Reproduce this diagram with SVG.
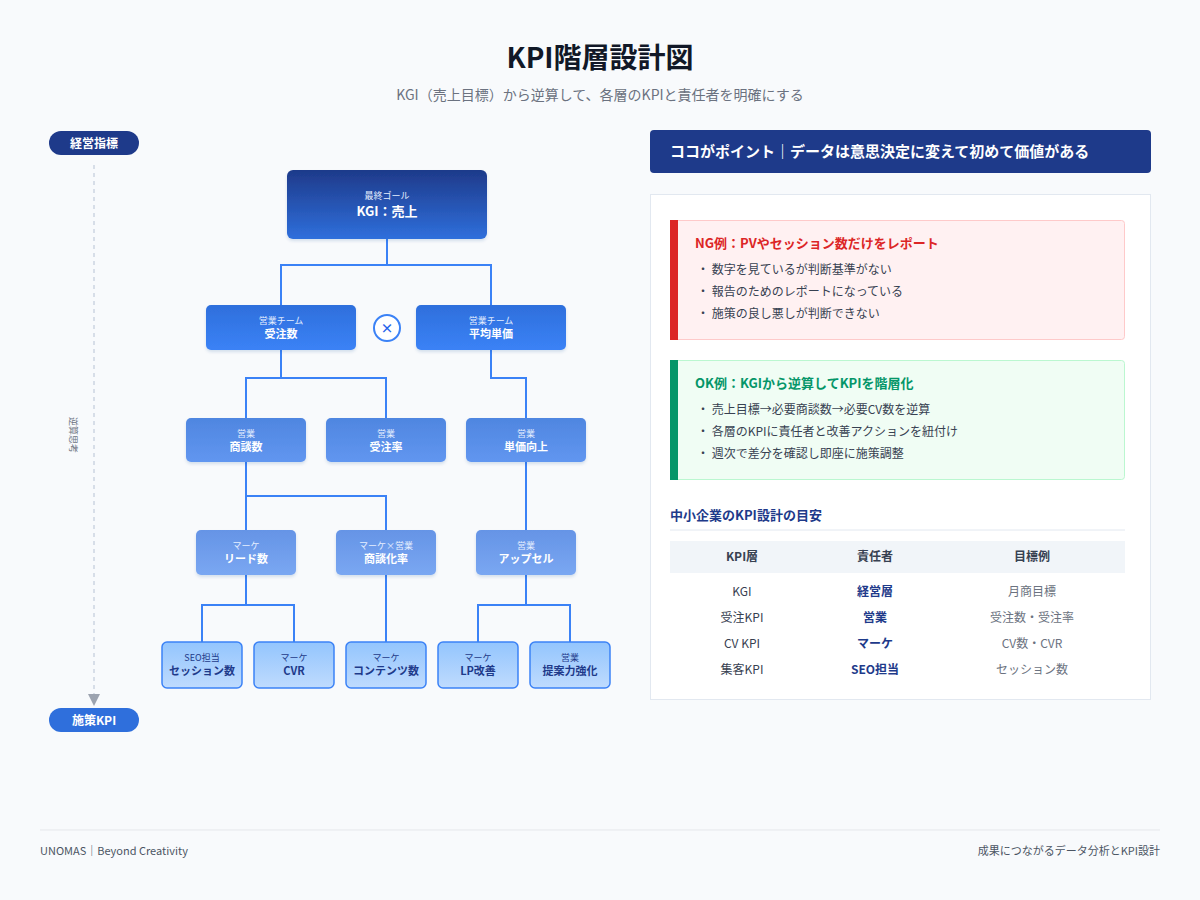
<svg xmlns="http://www.w3.org/2000/svg" width="1200" height="900" viewBox="0 0 1200 900">
<defs>
<linearGradient id="gTop" x1="0" y1="0" x2="0" y2="1"><stop offset="0" stop-color="#1e3a8a"/><stop offset="1" stop-color="#2f6fdc"/></linearGradient>
<linearGradient id="g2" x1="0" y1="0" x2="0" y2="1"><stop offset="0" stop-color="#2e6fdc"/><stop offset="1" stop-color="#3b82f6"/></linearGradient>
<linearGradient id="g3" x1="0" y1="0" x2="0" y2="1"><stop offset="0" stop-color="#4f86e0"/><stop offset="1" stop-color="#6196f0"/></linearGradient>
<linearGradient id="g4" x1="0" y1="0" x2="0" y2="1"><stop offset="0" stop-color="#6594e6"/><stop offset="1" stop-color="#7aa7f2"/></linearGradient>
<linearGradient id="g5" x1="0" y1="0" x2="0" y2="1"><stop offset="0" stop-color="#93c5fd"/><stop offset="1" stop-color="#bfdbfe"/></linearGradient>
<marker id="arr" markerWidth="8" markerHeight="8" refX="4" refY="4" orient="auto"><path d="M0,0 L8,4 L0,8 z" fill="#9ca3af"/></marker>
<filter id="sh" x="-10%" y="-10%" width="120%" height="130%"><feDropShadow dx="0" dy="2" stdDeviation="1.5" flood-color="#1e3a8a" flood-opacity="0.15"/></filter>
</defs>
<style>
text{font-family:"Noto Sans CJK JP","Noto Sans",sans-serif}
.c{stroke:#3b82f6;stroke-width:2;fill:none}
.sub{font-size:9px;fill:#e6efff;text-anchor:middle}
.lbl{font-size:11px;font-weight:bold;fill:#fff;text-anchor:middle}
.sub5{font-size:9px;fill:#1e3a8a;text-anchor:middle}
.lbl5{font-size:11px;font-weight:bold;fill:#1e3a8a;text-anchor:middle}
.b{font-size:12px;fill:#374151}
.td{font-size:12px;fill:#374151;text-anchor:middle}
.tn{font-size:12px;font-weight:bold;fill:#1e3a8a;text-anchor:middle}
.tg{font-size:12px;fill:#6b7280;text-anchor:middle}
</style>
<rect width="1200" height="900" fill="#f8fafc"/>
<text x="600" y="68" font-size="28" font-weight="bold" fill="#111827" text-anchor="middle">KPI階層設計図</text>
<text x="600" y="100" font-size="14" fill="#6b7280" text-anchor="middle">KGI（売上目標）から逆算して、各層のKPIと責任者を明確にする</text>

<g id="axis">
<rect x="49" y="131" width="90" height="24" rx="12" fill="#1e3a8a"/>
<text x="94" y="148" font-size="12" font-weight="bold" fill="#fff" text-anchor="middle">経営指標</text>
<line x1="94" y1="165" x2="94" y2="700" stroke="#cbd5e1" stroke-width="1.5" stroke-dasharray="4,4" marker-end="url(#arr)"/>
<text x="70" y="435" font-size="9" fill="#6b7280" text-anchor="middle" transform="rotate(90 70 435)">逆算思考</text>
<rect x="49" y="708" width="90" height="24" rx="12" fill="#2f6fdc"/>
<text x="94" y="725" font-size="12" font-weight="bold" fill="#fff" text-anchor="middle">施策KPI</text>
</g>

<g id="connectors">
<path class="c" d="M387,239 V265 M281,305 V265 H491 V305"/>
<path class="c" d="M281,350 V378 M246,418 V378 H386 V418"/>
<path class="c" d="M491,350 V378 H526 V418"/>
<path class="c" d="M246,462 V496 M246,530 V496 H386 V530"/>
<path class="c" d="M526,462 V530"/>
<path class="c" d="M246,575 V605 M202,642 V605 H294 V642"/>
<path class="c" d="M386,575 V642"/>
<path class="c" d="M526,575 V605 M478,642 V605 H570 V642"/>
</g>

<g id="kgi"><rect x="287" y="170" width="200" height="69" rx="6" fill="url(#gTop)" filter="url(#sh)"/>
<text x="387" y="199" class="sub">最終ゴール</text><text x="387" y="216" font-size="13" font-weight="bold" fill="#fff" text-anchor="middle">KGI：売上</text></g>

<g id="n-juchu"><rect x="206" y="305" width="150" height="45" rx="5" fill="url(#g2)" filter="url(#sh)"/><text x="281" y="324" class="sub">営業チーム</text><text x="281" y="338" class="lbl">受注数</text></g>
<g id="times"><circle cx="387" cy="328" r="13" fill="#fff" stroke="#3b82f6" stroke-width="2"/><text x="387" y="333" font-size="13" font-weight="bold" fill="#2563eb" text-anchor="middle">×</text></g>
<g id="n-tanka"><rect x="416" y="305" width="150" height="45" rx="5" fill="url(#g2)" filter="url(#sh)"/><text x="491" y="324" class="sub">営業チーム</text><text x="491" y="338" class="lbl">平均単価</text></g>

<g id="n-shodan"><rect x="186" y="418" width="120" height="44" rx="5" fill="url(#g3)" filter="url(#sh)"/><text x="246" y="437" class="sub">営業</text><text x="246" y="451" class="lbl">商談数</text></g>
<g id="n-juchuritsu"><rect x="326" y="418" width="120" height="44" rx="5" fill="url(#g3)" filter="url(#sh)"/><text x="386" y="437" class="sub">営業</text><text x="386" y="451" class="lbl">受注率</text></g>
<g id="n-tankaup"><rect x="466" y="418" width="120" height="44" rx="5" fill="url(#g3)" filter="url(#sh)"/><text x="526" y="437" class="sub">営業</text><text x="526" y="451" class="lbl">単価向上</text></g>

<g id="n-lead"><rect x="196" y="530" width="100" height="45" rx="5" fill="url(#g4)" filter="url(#sh)"/><text x="246" y="549" class="sub">マーケ</text><text x="246" y="563" class="lbl">リード数</text></g>
<g id="n-shodanka"><rect x="336" y="530" width="100" height="45" rx="5" fill="url(#g4)" filter="url(#sh)"/><text x="386" y="549" class="sub">マーケ×営業</text><text x="386" y="563" class="lbl">商談化率</text></g>
<g id="n-upsell"><rect x="476" y="530" width="100" height="45" rx="5" fill="url(#g4)" filter="url(#sh)"/><text x="526" y="549" class="sub">営業</text><text x="526" y="563" class="lbl">アップセル</text></g>

<g id="n-session"><rect x="162" y="642" width="80" height="46" rx="5" fill="url(#g5)" stroke="#3b82f6" stroke-width="1.5"/><text x="202" y="661" class="sub5">SEO担当</text><text x="202" y="675" class="lbl5">セッション数</text></g>
<g id="n-cvr"><rect x="254" y="642" width="80" height="46" rx="5" fill="url(#g5)" stroke="#3b82f6" stroke-width="1.5"/><text x="294" y="661" class="sub5">マーケ</text><text x="294" y="675" class="lbl5">CVR</text></g>
<g id="n-content"><rect x="346" y="642" width="80" height="46" rx="5" fill="url(#g5)" stroke="#3b82f6" stroke-width="1.5"/><text x="386" y="661" class="sub5">マーケ</text><text x="386" y="675" class="lbl5">コンテンツ数</text></g>
<g id="n-lp"><rect x="438" y="642" width="80" height="46" rx="5" fill="url(#g5)" stroke="#3b82f6" stroke-width="1.5"/><text x="478" y="661" class="sub5">マーケ</text><text x="478" y="675" class="lbl5">LP改善</text></g>
<g id="n-teian"><rect x="530" y="642" width="80" height="46" rx="5" fill="url(#g5)" stroke="#3b82f6" stroke-width="1.5"/><text x="570" y="661" class="sub5">営業</text><text x="570" y="675" class="lbl5">提案力強化</text></g>

<g id="panel">
<rect x="650" y="130" width="501" height="43" rx="4" fill="#1e3a8a"/>
<text x="670" y="157" font-size="15" font-weight="bold" fill="#fff">ココがポイント｜データは意思決定に変えて初めて価値がある</text>
<rect x="650.5" y="194.5" width="500" height="505" fill="#fff" stroke="#e2e8f0"/>

<rect x="670.5" y="220.5" width="454" height="119" rx="3" fill="#fff1f2" stroke="#fecaca"/>
<rect x="670" y="220" width="8" height="120" fill="#dc2626"/>
<text x="695" y="248" font-size="13" font-weight="bold" fill="#dc2626">NG例：PVやセッション数だけをレポート</text>
<text x="697" y="274" class="b">・ 数字を見ているが判断基準がない</text>
<text x="697" y="296" class="b">・ 報告のためのレポートになっている</text>
<text x="697" y="318" class="b">・ 施策の良し悪しが判断できない</text>

<rect x="670.5" y="360.5" width="454" height="119" rx="3" fill="#f0fdf4" stroke="#bbf7d0"/>
<rect x="670" y="360" width="8" height="120" fill="#059669"/>
<text x="695" y="388" font-size="13" font-weight="bold" fill="#059669">OK例：KGIから逆算してKPIを階層化</text>
<text x="697" y="414" class="b">・ 売上目標→必要商談数→必要CV数を逆算</text>
<text x="697" y="436" class="b">・ 各層のKPIに責任者と改善アクションを紐付け</text>
<text x="697" y="458" class="b">・ 週次で差分を確認し即座に施策調整</text>

<text x="670" y="520" font-size="13" font-weight="bold" fill="#1e3a8a">中小企業のKPI設計の目安</text>
<line x1="670" y1="530" x2="1125" y2="530" stroke="#e2e8f0"/>
<rect x="670" y="541" width="455" height="32" fill="#f1f5f9"/>
<text x="742" y="561" class="td" font-weight="bold">KPI層</text>
<text x="875" y="561" class="td" font-weight="bold">責任者</text>
<text x="1032" y="561" class="td" font-weight="bold">目標例</text>
<text x="742" y="596" class="td">KGI</text><text x="875" y="596" class="tn">経営層</text><text x="1032" y="596" class="tg">月商目標</text>
<text x="742" y="622" class="td">受注KPI</text><text x="875" y="622" class="tn">営業</text><text x="1032" y="622" class="tg">受注数・受注率</text>
<text x="742" y="648" class="td">CV KPI</text><text x="875" y="648" class="tn">マーケ</text><text x="1032" y="648" class="tg">CV数・CVR</text>
<text x="742" y="674" class="td">集客KPI</text><text x="875" y="674" class="tn">SEO担当</text><text x="1032" y="674" class="tg">セッション数</text>
</g>

<g id="footer">
<line x1="40" y1="830" x2="1160" y2="830" stroke="#e5e7eb"/>
<text x="40" y="855" font-size="11" fill="#4b5563">UNOMAS｜Beyond Creativity</text>
<text x="1160" y="855" font-size="11" fill="#4b5563" text-anchor="end">成果につながるデータ分析とKPI設計</text>
</g>
</svg>
